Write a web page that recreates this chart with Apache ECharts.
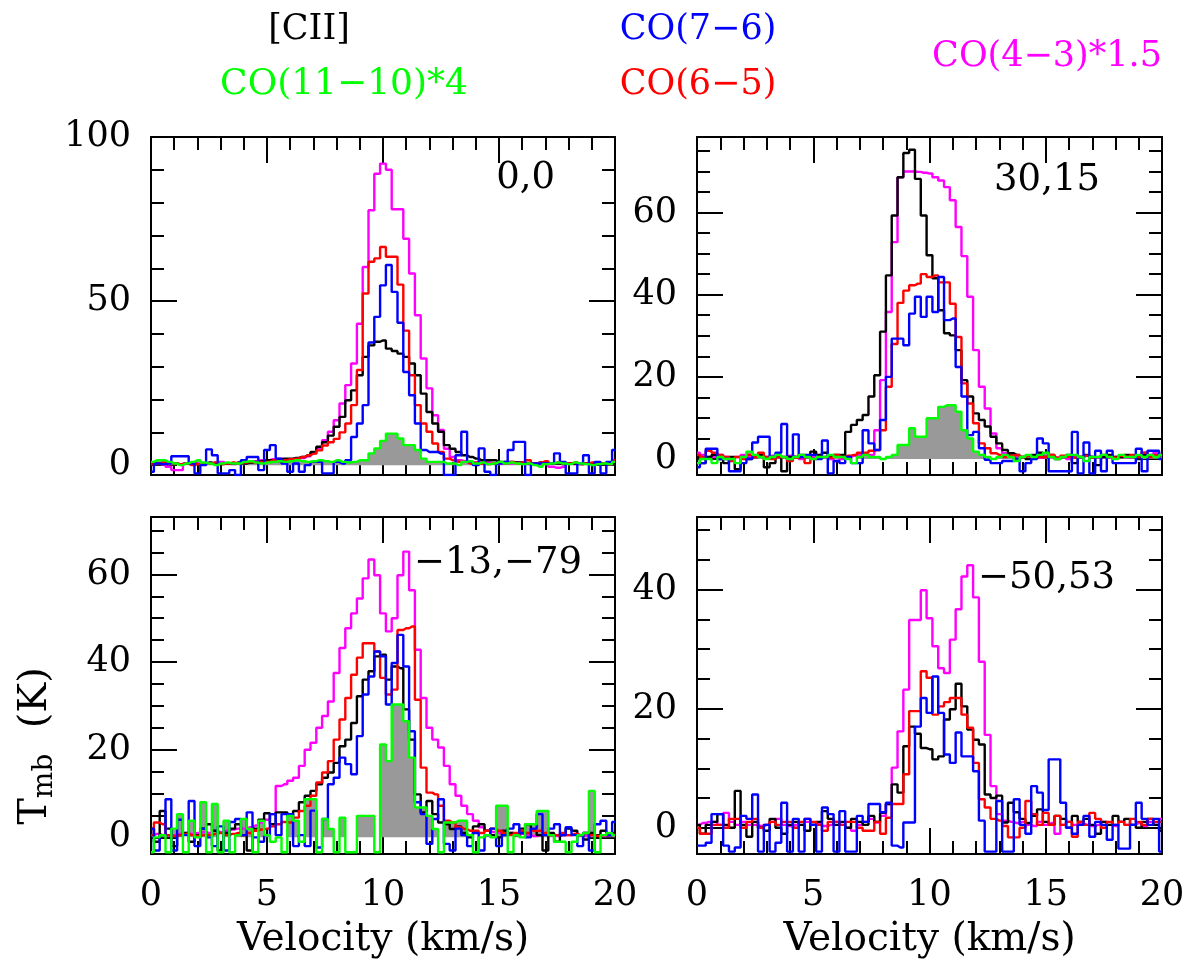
<!DOCTYPE html>
<html><head><meta charset="utf-8">
<script src="https://cdn.jsdelivr.net/npm/echarts@6/dist/echarts.min.js"></script>
<style>html,body{margin:0;padding:0;background:#fff}#chart{width:1190px;height:960px}</style>
</head><body><div id="chart"></div>
<script>
// channel centre velocities (km/s)
const velocity = [0,0.25,0.5,0.75,1,1.25,1.5,1.75,2,2.25,2.5,2.75,3,3.25,3.5,3.75,4,4.25,4.5,4.75,
5,5.25,5.5,5.75,6,6.25,6.5,6.75,7,7.25,7.5,7.75,8,8.25,8.5,8.75,9,9.25,9.5,9.75,
10,10.25,10.5,10.75,11,11.25,11.5,11.75,12,12.25,12.5,12.75,13,13.25,13.5,13.75,14,14.25,14.5,14.75,
15,15.25,15.5,15.75,16,16.25,16.5,16.75,17,17.25,17.5,17.75,18,18.25,18.5,18.75,19,19.25,19.5,19.75,20];

const xTickLabels = [0,5,10,15,20];
const panelLabels = ['0,0','30,15','\u221213,\u221279','\u221250,53'];
const legendNames = {cii:'[CII]', co76:'CO(7\u22126)', co1110:'CO(11\u221210)*4', co65:'CO(6\u22125)', co43:'CO(4\u22123)*1.5'};

// ---- panel 0,0 ----
const tl_cii = [0.5,0.3,0.5,0.8,0.5,0.3,0.5,0.5,0.3,0.5,
0.8,0.5,0.3,0.5,0.5,0.8,0.5,0.8,1.0,1.2,
1.5,1.5,1.8,2.0,2.0,2.2,2.5,3.0,4.0,5.6,
7.0,9.0,11.7,14.7,19.8,22.8,27.4,33.0,36.5,37.6,
38.0,35.5,34.8,34.0,33.0,31.0,27.4,21.8,16.2,12.7,
10.2,6.1,5.0,4.0,3.0,2.5,2.0,1.5,1.5,1.5,
1.0,1.0,1.0,0.8,0.8,0.5,0.5,0.8,0.5,0.5,
0.5,0.3,0.5,0.5,0.3,0.5,0.5,0.3,0.5,0.5,0.5];
const tl_co76 = [-2.0,0.5,0.3,0.5,2.7,2.7,2.7,0.5,-2.5,0.0,
4.8,3.0,-2.5,-2.5,-1.5,-3.0,1.5,2.5,2.5,-1.5,
4.6,6.1,2.0,0.5,-2.0,0.5,-2.0,0.0,1.0,1.0,
-2.5,-2.5,1.0,0.5,1.5,8.6,12.7,18.3,37.4,45.2,
54.8,61.0,52.8,43.4,28.4,21.3,12.7,4.6,4.0,4.0,
3.5,-3.0,-3.0,3.0,10.2,1.0,0.0,5.1,-2.0,-3.0,
0.5,1.0,4.6,7.1,7.1,-3.0,0.5,0.5,0.5,0.5,
3.6,1.0,-2.5,-2.5,0.5,3.0,-2.5,1.0,-2.5,1.0,4.6];
const tl_co65 = [0.3,0.5,0.8,0.8,0.5,0.3,0.5,0.0,0.3,0.5,
0.5,0.8,0.3,0.5,0.8,0.5,0.8,1.0,0.8,1.0,
1.0,1.5,1.2,1.5,1.8,2.0,2.5,3.0,3.5,4.5,
6.0,7.0,8.0,10.0,12.7,18.3,29.0,52.3,62.0,63.0,
66.5,63.5,63.5,55.0,41.0,27.4,18.3,12.7,10.2,6.6,
4.0,2.0,1.5,1.0,1.0,0.5,0.8,0.5,0.3,0.5,
0.8,0.5,1.0,0.5,0.8,1.5,0.5,0.8,1.2,0.5,
0.8,0.5,0.5,0.8,0.3,0.5,0.8,0.5,0.5,0.3,1.5];
const tl_co43 = [0.8,0.5,0.2,-0.5,-1.5,-1.5,0.5,0.8,0.5,0.3,
0.5,0.8,1.0,0.5,0.3,0.5,0.8,1.0,1.2,1.5,
1.5,1.8,2.0,1.8,1.8,2.0,2.2,2.7,3.6,5.1,
7.6,10.2,13.7,18.8,24.4,31.0,43.1,60.4,77.7,88.8,
91.9,90.0,78.0,78.0,69.0,58.4,45.7,32.5,23.4,15.2,
10.7,5.0,2.5,1.5,1.2,1.0,0.8,1.0,0.8,0.5,
0.5,0.5,0.5,0.8,0.5,0.3,0.5,0.2,0.5,-0.5,
-0.8,-0.5,0.5,0.3,0.5,0.5,0.3,0.5,0.5,0.3,0.5];
const tl_co1110 = [1.0,1.5,1.5,1.0,0.5,0.0,0.5,1.0,1.5,0.8,
0.5,0.0,0.5,0.8,0.5,0.5,1.0,1.2,0.8,0.5,
0.8,1.0,1.2,1.0,1.2,1.5,1.2,1.0,1.2,1.5,
1.2,1.0,1.5,1.0,0.8,1.0,1.5,1.5,3.6,5.1,
7.4,9.6,9.6,8.1,6.1,6.1,4.6,2.0,1.0,1.0,
1.0,0.5,0.5,0.0,1.0,1.2,0.5,0.8,0.3,0.5,
1.0,0.5,0.8,0.5,0.3,0.5,0.0,-0.5,0.3,0.5,
0.8,0.5,0.3,0.8,0.5,0.3,0.0,0.3,0.5,0.3,1.0];

// ---- panel 30,15 ----
const tr_cii = [0.5,-1.0,0.5,1.0,0.0,-1.0,0.5,-2.5,0.5,0.0,
0.5,1.0,-2.0,-1.0,0.5,-3.0,0.5,0.5,1.0,0.5,
1.8,1.0,1.5,0.5,1.0,1.0,6.6,8.3,9.5,10.7,
15.2,20.4,31.0,44.7,59.3,68.6,74.5,75.3,68.2,59.3,
49.6,44.0,36.2,30.6,30.1,26.5,19.2,15.2,11.1,9.5,
7.9,5.4,3.8,2.2,1.4,1.0,0.5,0.0,1.0,1.5,
0.5,1.0,0.0,0.5,1.0,-1.0,0.5,1.0,0.5,-1.5,
0.5,1.0,0.5,0.5,1.0,0.5,0.0,1.0,0.5,0.5,1.0];
const tr_co76 = [-2.0,-1.0,2.5,2.5,0.0,0.0,-3.0,-3.0,-1.0,0.0,
4.0,5.4,5.4,0.5,1.5,8.5,0.0,6.0,0.5,1.0,
1.0,0.0,4.5,-3.5,-0.5,-1.0,0.5,-1.0,-1.0,7.0,
3.8,2.2,9.5,20.0,29.3,29.3,27.7,35.4,39.5,34.6,
39.5,35.8,44.3,33.8,34.2,22.4,15.2,5.8,6.6,2.6,
-0.2,-1.0,-1.0,-0.5,-0.5,0.0,-3.0,-1.0,0.0,5.0,
3.8,-3.0,-3.0,-3.0,-3.0,6.6,-3.5,4.0,-3.5,2.0,
-3.0,2.0,-1.0,-1.0,-1.0,-1.0,2.5,-3.0,2.0,2.0,0.0];
const tr_co65 = [1.0,0.5,2.0,1.5,1.0,0.5,-0.5,0.5,0.0,1.0,
0.5,1.5,0.5,0.0,0.5,0.5,-0.5,0.3,0.5,-1.0,
0.0,0.5,0.5,0.3,1.0,0.5,0.8,1.0,1.5,1.5,
2.0,2.2,7.0,17.6,28.0,38.0,41.0,42.3,42.7,45.0,
44.3,44.7,43.0,43.0,37.8,29.7,18.4,13.5,8.7,3.8,
2.6,1.4,1.0,0.5,0.8,1.0,0.5,0.8,0.3,0.5,
0.5,1.0,0.3,0.8,0.5,0.3,0.5,0.8,0.3,0.5,
1.0,0.5,0.3,0.8,0.5,1.0,0.5,1.5,0.5,1.0,0.8];
const tr_co43 = [1.5,1.0,0.5,0.5,1.0,0.5,0.0,0.5,1.0,0.5,
0.5,1.0,0.5,0.8,0.5,0.5,0.8,0.5,0.0,0.5,
0.5,0.3,0.5,0.0,-0.5,0.0,0.5,0.8,1.0,1.0,
1.0,7.0,19.2,35.8,52.8,68.6,70.0,70.0,69.9,69.7,
69.5,68.6,67.8,66.2,63.0,56.5,49.4,39.5,26.5,17.6,
12.3,6.2,2.6,1.4,1.0,0.5,0.5,0.8,0.5,0.3,
0.5,0.5,0.3,0.5,0.0,0.5,0.5,0.8,0.5,0.3,
0.5,0.3,0.5,0.5,0.3,0.5,0.8,1.5,1.0,1.5,1.0];
const tr_co1110 = [-1.0,0.0,0.0,-1.0,0.5,0.0,0.0,-1.0,0.5,1.8,
1.0,0.5,0.0,0.5,1.0,0.5,0.0,0.5,1.0,0.5,
0.0,0.5,0.5,1.0,0.5,0.5,0.0,-1.0,0.5,1.0,
0.5,0.5,0.0,0.5,1.0,3.4,3.4,7.5,5.4,5.4,
9.9,9.9,12.7,13.1,13.1,11.5,7.0,5.0,1.8,1.0,
0.5,0.0,0.5,1.0,0.5,-0.5,0.5,1.0,0.5,1.0,
1.5,0.5,0.0,0.5,1.0,1.0,0.5,-0.5,0.5,0.5,
1.0,0.5,0.0,1.0,0.5,0.5,1.0,0.5,1.0,0.5,1.0];

// ---- panel -13,-79 ----
const bl_cii = [2.0,-1.0,6.0,2.0,-2.0,0.5,1.0,-1.0,0.5,2.0,
3.0,1.5,-3.0,1.0,2.0,3.0,0.5,-3.0,2.0,4.0,
5.5,3.0,5.7,5.7,5.0,6.0,8.0,9.5,10.6,12.1,
13.6,14.8,17.0,20.8,22.3,26.1,32.2,36.0,37.9,41.3,
41.7,36.0,39.0,38.6,29.2,22.3,9.8,5.7,8.3,5.3,
3.4,3.0,1.9,2.5,1.0,0.0,2.5,3.0,1.5,0.5,
0.0,1.5,1.0,0.5,2.0,3.0,1.5,0.5,-3.0,1.0,
-1.0,0.5,2.0,1.5,0.5,-0.5,1.0,0.5,1.5,0.5,1.0];
const bl_co76 = [2.0,-3.0,0.5,8.7,-3.0,4.0,0.5,8.3,-2.0,2.0,
0.0,-2.0,2.5,-3.0,3.5,4.2,0.5,5.7,0.0,-1.0,
0.5,5.3,0.5,5.3,5.3,-2.0,0.5,-2.0,6.1,-2.3,
4.2,12.1,13.6,18.2,16.7,14.4,23.1,32.6,36.7,42.4,
41.3,30.3,39.8,46.2,39.0,24.2,8.0,5.3,-1.5,4.2,
8.7,-1.5,-3.0,2.0,0.5,-2.0,1.0,-3.0,0.5,2.0,
-2.0,0.5,2.0,3.0,1.0,0.0,2.0,5.3,0.5,2.0,
3.0,0.5,2.3,0.5,-2.0,1.0,-3.0,3.0,3.8,0.5,3.5];
const bl_co65 = [0.5,3.4,3.0,0.5,0.3,0.5,0.8,0.5,0.3,0.5,
0.5,0.8,1.0,0.5,0.8,1.0,0.5,1.0,1.5,1.8,
2.0,2.5,3.0,3.5,3.4,4.5,6.0,7.2,9.5,12.5,
14.8,17.4,22.3,26.9,31.8,37.1,41.0,44.3,44.3,42.4,
36.4,32.6,33.7,47.3,47.7,48.1,31.4,15.9,10.2,9.8,
7.2,3.8,3.4,2.3,1.9,1.5,1.5,1.0,1.5,2.0,
1.5,1.0,0.5,1.0,1.5,1.0,1.5,1.5,1.0,0.5,
0.5,1.0,0.5,0.8,0.5,1.0,0.5,0.3,0.5,0.8,0.5];
const bl_co43 = [0.5,0.8,0.5,0.3,0.5,0.8,1.0,0.8,1.0,1.2,
1.0,1.5,1.2,1.5,1.8,2.0,2.0,2.3,2.7,3.4,
4.0,5.3,11.7,12.1,12.9,13.6,16.3,20.0,21.6,25.0,
27.7,31.0,37.5,43.2,47.7,51.1,54.5,59.1,63.4,59.8,
51.1,47.0,50.0,59.8,65.2,56.4,42.8,31.8,25.0,22.3,
20.5,16.3,12.1,9.5,7.2,5.3,3.8,2.3,1.5,1.2,
1.0,0.8,1.0,0.5,0.8,0.5,0.3,0.5,0.8,0.5,
0.3,0.5,0.5,0.8,0.5,0.3,0.5,0.5,0.3,0.5,0.5];
const bl_co1110 = [-3.4,0.0,0.5,-3.4,2.0,5.3,-3.4,3.8,0.0,8.0,
-3.4,7.6,-3.4,3.8,-3.4,0.5,4.2,1.9,-3.4,3.8,
0.5,-1.0,0.0,-3.4,4.9,3.8,-1.0,8.7,8.7,-3.4,
4.2,1.9,-3.4,4.5,-3.4,-3.4,4.9,4.9,4.9,-3.4,
21.2,17.4,30.3,30.3,26.5,18.2,6.8,6.8,4.9,1.9,
-3.4,3.4,3.4,3.8,3.8,0.5,-3.4,0.0,0.5,0.0,
7.2,7.2,-3.4,0.5,0.0,3.0,3.0,6.0,6.0,0.5,
-1.0,-1.0,-3.4,-1.0,0.5,1.0,10.6,-3.4,0.5,1.0,0.5];

// ---- panel -50,53 ----
const br_cii = [0.5,-1.0,0.5,1.0,2.3,0.5,0.0,6.2,0.5,-1.5,
1.0,0.0,-0.5,1.5,0.0,-1.0,0.5,1.0,0.5,-0.5,
0.5,1.0,2.8,1.5,0.5,1.0,0.0,1.5,1.0,0.5,
2.0,1.0,2.5,4.0,7.3,5.9,13.7,17.0,15.8,13.4,
13.2,11.5,12.0,18.2,19.9,24.2,20.4,16.5,14.8,14.0,
5.6,5.0,5.4,0.9,4.2,2.6,1.5,0.8,2.0,3.1,
1.0,0.5,2.0,1.5,0.0,2.0,1.0,1.5,0.5,-1.0,
1.0,0.5,2.0,1.0,1.5,0.5,0.0,1.0,1.5,0.5,-0.5];
const br_co76 = [-3.0,-3.0,-2.5,2.3,2.3,-3.0,-4.0,-3.3,2.0,1.5,
5.6,-4.0,0.5,-4.0,-2.5,4.2,-4.0,1.5,-4.0,1.5,
0.5,-4.0,3.4,2.3,-4.0,2.8,-4.0,-4.0,2.0,1.0,
4.0,4.0,2.6,4.2,-3.0,-3.3,0.9,0.9,17.0,21.8,
19.3,25.4,19.3,12.3,10.9,16.0,12.0,12.0,9.5,1.2,
-4.0,-4.0,4.5,-4.0,-4.0,4.8,0.5,-1.0,7.0,5.9,
3.0,11.5,11.5,4.2,0.0,-1.0,0.5,2.0,-1.5,1.0,
0.5,-2.0,0.5,-3.5,-3.5,0.5,4.2,1.5,0.5,1.5,-4.0];
const br_co65 = [0.0,-1.0,-1.0,0.5,0.5,0.0,1.5,1.5,0.0,1.0,
1.5,0.0,0.5,1.0,0.5,1.0,1.0,0.0,1.0,1.5,
1.0,0.5,-0.5,1.0,1.0,0.5,1.0,1.0,0.0,-0.5,
-0.5,1.0,-1.0,1.7,4.0,4.0,9.0,19.6,19.6,26.3,
25.2,19.0,20.4,21.1,21.8,21.8,19.0,16.8,10.9,4.8,
3.4,1.5,1.2,0.3,-1.6,-1.6,0.0,4.5,2.3,0.5,
2.5,0.5,2.0,0.5,1.0,-1.5,1.0,0.5,2.5,1.5,
0.0,1.0,0.5,1.0,0.5,1.5,1.0,0.5,1.5,1.0,1.0];
const br_co43 = [0.5,0.8,1.0,1.0,0.5,2.5,1.0,0.5,1.0,0.5,
0.5,0.3,0.5,1.0,1.5,0.5,0.3,0.5,0.5,1.0,
0.5,0.8,0.3,0.5,1.0,0.5,0.0,-0.5,0.5,1.0,
1.5,0.9,2.0,4.0,10.1,16.2,23.2,34.9,34.9,39.9,
35.2,30.5,26.8,26.0,31.6,36.7,42.2,44.1,38.7,27.9,
15.6,7.0,2.3,1.2,1.0,0.8,1.0,0.5,0.3,1.0,
0.5,0.8,-1.0,0.5,1.0,0.5,0.8,0.5,0.3,0.5,
1.0,0.5,0.3,1.0,0.5,0.5,0.8,0.3,1.0,0.5,1.5];

// ---- axis tick values per panel ----
const yMajorTicks = [[0,50,100],[0,20,40,60],[0,20,40,60],[0,20,40]];
const yMinorTicks = [[10,20,30,40,60,70,80,90],
  [5,10,15,25,30,35,45,50,55,65,70,75],
  [5,10,15,25,30,35,45,50,55,65,70],
  [5,10,15,25,30,35,45,50]];
const yRanges = [[-3,100],[-3.9,78.4],[-3.8,73.1],[-4.4,52.2]];

const panelData = [
  {cii:tl_cii, co76:tl_co76, co65:tl_co65, co43:tl_co43, co1110:tl_co1110},
  {cii:tr_cii, co76:tr_co76, co65:tr_co65, co43:tr_co43, co1110:tr_co1110},
  {cii:bl_cii, co76:bl_co76, co65:bl_co65, co43:bl_co43, co1110:bl_co1110},
  {cii:br_cii, co76:br_co76, co65:br_co65, co43:br_co43, co1110:null}
];

// ---- layout / style ----
const FONT = '"DejaVu Serif", serif';
const colors = {cii:'#000000', co76:'#0000ff', co65:'#ff0000', co43:'#ff00ff', co1110:'#00ff00'};
const gridBoxes = [
  {left:151, top:137, width:464, height:338},
  {left:697, top:137, width:465, height:338},
  {left:151, top:517, width:464, height:338},
  {left:697, top:517, width:465, height:338}
];
const MAJ = 26, MIN = 13;
const lineSt = {color:'#000', width:2};

const grids = [], xAxes = [], yAxes = [], series = [];
gridBoxes.forEach((b, g) => {
  grids.push(Object.assign({containLabel:false}, b));
  const bottomRow = g >= 2;
  ['bottom','top'].forEach(pos => {
    xAxes.push({
      gridIndex:g, type:'value', position:pos, min:0, max:20, interval:5,
      axisLine:{show:true, onZero:false, lineStyle:lineSt},
      axisTick:{show:true, inside:true, length:MAJ, lineStyle:lineSt},
      minorTick:{show:true, splitNumber:5, length:MIN, lineStyle:lineSt},
      axisLabel:{show: pos==='bottom' && bottomRow, margin:24, fontFamily:FONT, fontSize:35, color:'#000',
        customValues: xTickLabels},
      splitLine:{show:false}, minorSplitLine:{show:false},
      name: (pos==='bottom' && bottomRow) ? 'Velocity (km/s)' : '',
      nameLocation:'middle', nameGap:66,
      nameTextStyle:{fontFamily:FONT, fontSize:39, color:'#000'}
    });
  });
  const [ymin, ymax] = yRanges[g];
  ['left','right'].forEach(pos => {
    yAxes.push({
      gridIndex:g, type:'value', position:pos, min:ymin, max:ymax,
      axisLine:{show:true, onZero:false, lineStyle:lineSt},
      axisTick:{show:true, inside:true, length:MAJ, lineStyle:lineSt, customValues:yMajorTicks[g]},
      axisLabel:{show: pos==='left', margin:20, fontFamily:FONT, fontSize:35, color:'#000', customValues:yMajorTicks[g]},
      splitLine:{show:false}
    });
    yAxes.push({
      gridIndex:g, type:'value', position:pos, min:ymin, max:ymax,
      axisLine:{show:false, onZero:false},
      axisTick:{show:true, inside:true, length:MIN, lineStyle:lineSt, customValues:yMinorTicks[g]},
      axisLabel:{show:false, customValues:yMinorTicks[g]},
      splitLine:{show:false}
    });
  });
  const d = panelData[g];
  const xi = 2*g, yi = 4*g;
  const pts = arr => velocity.map((v,i) => [v, arr[i]]);
  if (d.co1110) {
    series.push({type:'line', xAxisIndex:xi, yAxisIndex:yi, step:'middle', showSymbol:false, silent:true,
      data: velocity.map((v,i) => [v, Math.max(0, d.co1110[i])]),
      lineStyle:{width:0, opacity:0}, areaStyle:{color:'#999999', opacity:1, origin:0}, z:1});
  }
  ['co43','cii','co65','co76','co1110'].forEach((k, j) => {
    if (!d[k]) return;
    series.push({type:'line', name:legendNames[k], xAxisIndex:xi, yAxisIndex:yi, step:'middle',
      showSymbol:false, silent:true, data:pts(d[k]),
      lineStyle:{color:colors[k], width:2.4}, itemStyle:{color:colors[k]}, z:2+j});
  });
});

const txt = (x, y, text, color, size, align) => ({type:'text', x:x, y:y, z:100,
  style:{text:text, fill:color, font: size+'px '+FONT, textAlign:align||'center', align:align||'center',
         textVerticalAlign:'middle', verticalAlign:'middle'}});

const graphic = [
  txt(309, 30, legendNames.cii, colors.cii, 35),
  txt(698, 30, legendNames.co76, colors.co76, 35),
  txt(344, 85, legendNames.co1110, colors.co1110, 36),
  txt(698, 85, legendNames.co65, colors.co65, 35),
  txt(1047, 57, legendNames.co43, colors.co43, 35),
  txt(555, 178, panelLabels[0], '#000', 37, 'right'),
  txt(1100, 180, panelLabels[1], '#000', 37, 'right'),
  txt(582, 563, panelLabels[2], '#000', 37, 'right'),
  txt(1115, 578, panelLabels[3], '#000', 37, 'right'),
  {type:'text', x:36, y:746, rotation:Math.PI/2, z:100,
   style:{text:'{a|T}{b|mb}{a|  (K)}', align:'center', verticalAlign:'middle', textAlign:'center', textVerticalAlign:'middle',
     rich:{a:{fontFamily:FONT, fontSize:40, lineHeight:44, fill:'#000', color:'#000'},
           b:{fontFamily:FONT, fontSize:28, lineHeight:28, padding:[18,0,0,0], fill:'#000', color:'#000'}}}}
];

const chart = echarts.init(document.getElementById('chart'), null, {renderer:'canvas'});
chart.setOption({
  animation:false, backgroundColor:'#ffffff',
  grid:grids, xAxis:xAxes, yAxis:yAxes, series:series, graphic:graphic
});
</script></body></html>
